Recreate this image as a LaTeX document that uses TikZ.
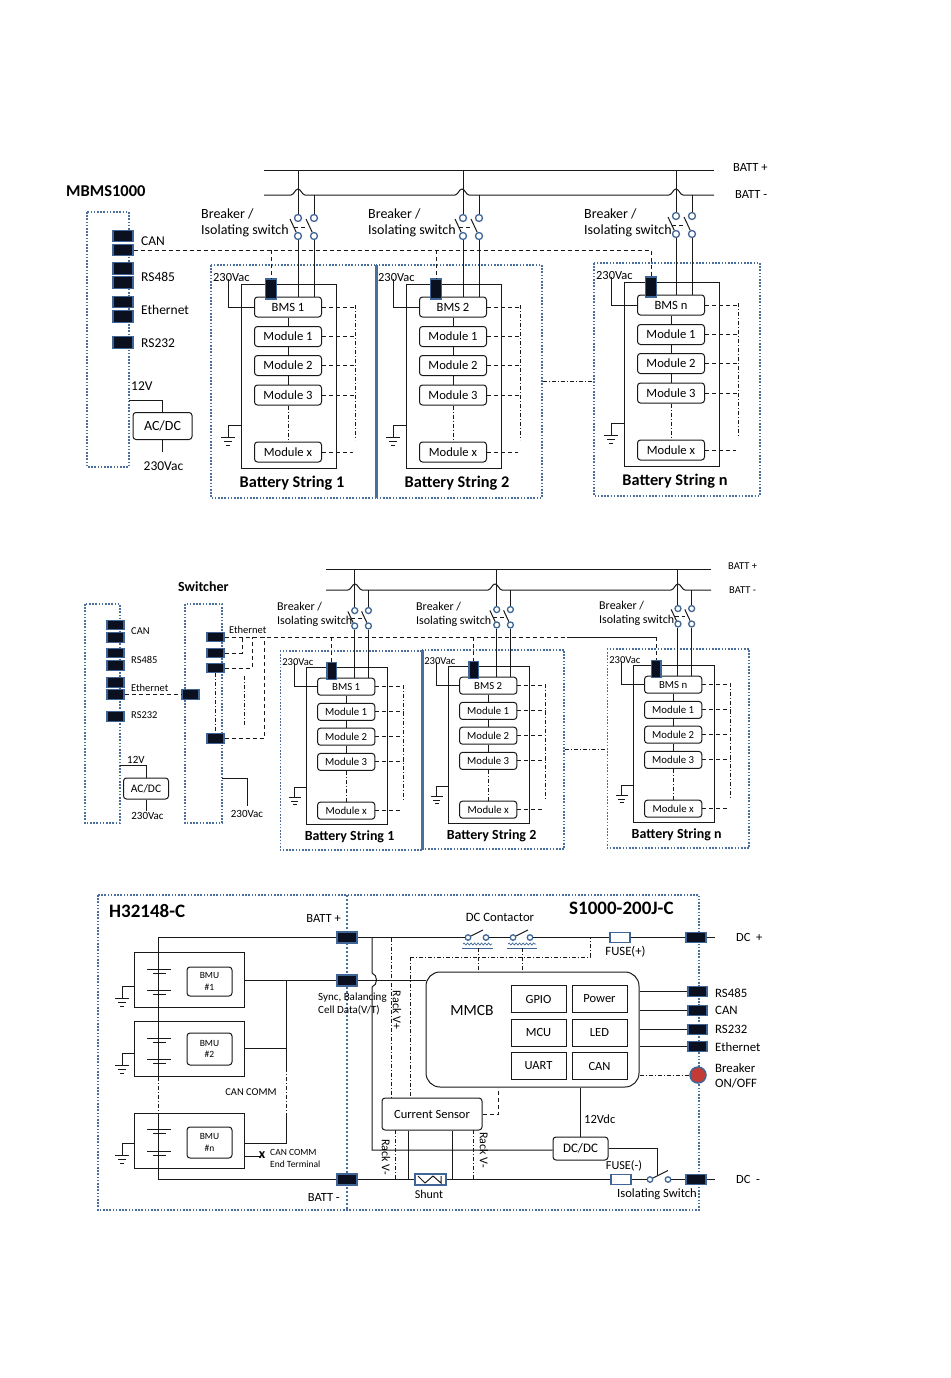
\documentclass[tikz,border=0pt]{standalone}
\usepackage{fontspec}
\usepackage{xcolor}
\setmainfont{Carlito}
\usetikzlibrary{decorations.pathmorphing}
\definecolor{portdark}{HTML}{0B1020}
\definecolor{portedge}{HTML}{3F6696}
\definecolor{dotblue}{HTML}{4A6F9C}
\definecolor{stopred}{HTML}{C23B36}
\tikzset{
  wire/.style={line width=1pt, draw=black!90},
  dashwire/.style={line width=1pt, draw=black!90, dash pattern=on 4pt off 3pt},
  dotwire/.style={line width=1pt, draw=black!90, dash pattern=on 4pt off 2pt on 1pt off 2pt},
  dotbox/.style={line width=1.6pt, draw=dotblue, dash pattern=on 1.6pt off 1.6pt},
  divider/.style={line width=2.4pt, draw=dotblue},
  txt/.style={font=\fontsize{#1}{#1}\selectfont, inner sep=0pt},
  btxt/.style={font=\fontsize{#1}{#1}\selectfont\bfseries, inner sep=0pt},
  port/.style 2 args={rectangle, fill=portdark, draw=portedge, line width=1.3pt, inner sep=0pt, minimum width=#1pt, minimum height=#2pt},
  pin/.style={circle, fill=white, draw=portedge, line width=1.3pt, inner sep=0pt, minimum size=#1pt},
  fuse/.style={rectangle, fill=white, draw=portedge, line width=1.2pt, inner sep=0pt, minimum width=20pt, minimum height=10pt},
  modbox/.style={rectangle, rounded corners=3pt, draw=black!90, fill=white, line width=1pt, inner sep=0pt},
  plainbox/.style={rectangle, draw=black!90, line width=1pt, inner sep=0pt},
}
\newcommand{\gndsym}[1]{\draw[wire] (#1) +(-7,0) -- +(7,0) (#1) +(-4,4) -- +(4,4) (#1) +(-2,8) -- +(2,8);}
\newcommand{\buship}[2]{-- ({#1-7},#2) .. controls ({#1-4},#2) and ({#1-3},{#2-6}) .. (#1,{#2-6}) .. controls ({#1+3},{#2-6}) and ({#1+4},#2) .. ({#1+7},#2)}
\newcommand{\poleshift}{0}
\newcommand{\batstring}[6]{
  \pgfmathsetmacro\modw{#4*67}
  \pgfmathsetmacro\modh{#4*20}
  \pgfmathsetmacro\strw{#4*95}
  \pgfmathsetmacro\strh{#4*184}
  \pgfmathsetmacro\pinw{#4*7}
  \pgfmathsetmacro\modsize{#4*12.6}
  \pgfmathsetmacro\vacsize{#4*12.4}
  \pgfmathsetmacro\titlesize{#4*16.3}
  \begin{scope}[shift={(#2,#3)},x=#4pt,y=-#4pt]
  \draw[dotbox] (-30,-19) rectangle (136,214);
  \node[plainbox, anchor=north west, minimum width=\strw pt, minimum height=\strh pt] (#1case) at (0,0) {};
  \foreach \nm/\yy/\tx in {bms/23/#5, ma/52.5/Module 1, mb/81.5/Module 2, mc/111/Module 3, mx/168/Module x}
    \node[modbox, txt=\modsize, minimum width=\modw pt, minimum height=\modh pt] (#1\nm) at (47,\yy) {\tx};
  \node[port={\pinw pt}{\modh pt}, minimum width=#4*11pt, minimum height=#4*20pt] (#1port) at ({30+0.6*\poleshift},5) {};
  \coordinate (#1rail) at (114,21);
  \coordinate (#1railend) at (114,156);
  \coordinate (#1gnd) at (-13,153);
  \coordinate (#1vac) at (-13,-5);
  \node[pin=\pinw] (#1swa) at ({57+\poleshift},-66) {};
  \node[pin=\pinw] (#1swb) at ({73+\poleshift},-66) {};
  \node[pin=\pinw] (#1sla) at ({57+\poleshift},-48) {};
  \node[pin=\pinw] (#1slb) at ({73+\poleshift},-48) {};
  \node[txt=\vacsize, anchor=west] (#1vaclab) at (-28,-6) {230Vac};
  \node[btxt=\titlesize] (#1title) at (51,199) {#6};
  \draw[wire] (#1bms) -- (#1ma);
  \draw[wire] (#1ma) -- (#1mb);
  \draw[wire] (#1mb) -- (#1mc);
  \draw[dotwire] (#1mc) -- (#1mx);
  \draw[dotwire] (#1rail) -- (#1railend);
  \draw[dashwire] (#1bms.east) -- (#1rail |- #1bms.east);
  \draw[dashwire] (#1ma.east) -- (#1rail |- #1ma.east);
  \draw[dashwire] (#1mb.east) -- (#1rail |- #1mb.east);
  \draw[dashwire] (#1mc.east) -- (#1rail |- #1mc.east);
  \draw[dashwire] (#1mx.east) -- ++(31,0);
  \draw[wire] (#1sla) -- (#1sla |- #1bms.north);
  \draw[wire] (#1slb) -- (#1slb |- #1bms.north);
  \draw[wire] ($(#1sla)+(-8,-17)$) -- (#1sla);
  \draw[wire] ($(#1slb)+(-8,-17)$) -- (#1slb);
  \draw[dashwire] ($(#1sla)+(-4,-9)$) -- ($(#1sla)+(8,-9)$);
  \draw[wire] (#1vac) -- (#1vac |- #1bms.west) -- (#1bms.west);
  \draw[wire] (#1case.west |- 0,141) -- (#1gnd |- 0,141) -- (#1gnd);
  \gndsym{#1gnd}
  \end{scope}
}
\newcommand{\contactor}[3]{
  \node[pin=5.5] (#1a) at (#2,937.5) {};
  \node[pin=5.5] (#1b) at (#3,937.5) {};
  \draw[wire] (#1a) -- ++(15,-7.5);
  \draw[line width=0.7pt, draw=portedge, decorate, decoration={snake,amplitude=1pt,segment length=3.5pt}] ({#2-5},944) -- ({#3+6},944);
  \draw[line width=0.8pt, draw=portedge] ({#2-6},948) -- ({#3+7},948);
}
\usetikzlibrary{calc}
\begin{document}
\begin{tikzpicture}[x=1pt,y=-1pt]
\useasboundingbox (0,0) rectangle (950,1378);
\coordinate (busplus) at (264,170);
\coordinate (busminus) at (264,195);
\draw[wire] (busplus) -- (714,170);
\draw[wire] (busminus) \buship{298}{195} \buship{462}{195} \buship{676}{195} -- (714,195);
\node[txt=12.5, anchor=west] (battpa) at (733,167) {BATT +};
\node[txt=12.5, anchor=west] (battma) at (735,194.5) {BATT -};
\node[btxt=16.5, anchor=west] (mbmslab) at (66,191.5) {MBMS1000};
\draw[dotbox] (87,212) rectangle (129,467);
\foreach \nm/\yy in {cana/236,canb/250,rsa/268.5,rsb/282.5,etha/302,ethb/316.5,rsc/342.5}
  \node[port={20}{11.5}] (\nm) at (123,\yy) {};
\foreach \tx/\yy in {CAN/241.5,RS485/276.5,Ethernet/309.5,RS232/343}
  \node[txt=13.5, anchor=west] at (141,\yy) {\tx};
\node[txt=13.5, anchor=west] (twelvea) at (131,386) {12V};
\node[modbox, txt=14, minimum width=59pt, minimum height=27pt] (acdca) at (162.5,426) {AC/DC};
\node[txt=13.5] (vacmain) at (163.5,466) {230Vac};
\draw[wire] (129,400) -- (acdca.north |- 129,400) -- (acdca.north);
\draw[wire] (acdca.south) -- ++(0,12);
\batstring{sa}{241}{284}{1}{BMS 1}{Battery String 1}
\batstring{sb}{406}{284}{1}{BMS 2}{Battery String 2}
\renewcommand{\poleshift}{-5}
\batstring{sn}{624}{282}{1}{BMS n}{Battery String n}
\renewcommand{\poleshift}{0}
\draw[divider] (376.5,265) -- (376.5,498);
\draw[dotwire] (543,381) -- (593,381);
\foreach \s in {sa,sb,sn}{
  \draw[wire] (\s swa) -- (\s swa |- busplus);
  \draw[wire] (\s swb) -- (\s swb |- busminus);
}
\draw[dashwire] (canb.east) -- (snport.north |- canb.east) -- (snport.north);
\draw[dashwire] (saport.north |- canb.east) -- (saport.north);
\draw[dashwire] (sbport.north |- canb.east) -- (sbport.north);
\foreach \nm/\xx/\yy in {brka/201/223,brkb/368/223,brkn/584/223}
  \node[txt=14, anchor=west, align=left] (\nm) at (\xx,\yy) {Breaker /\\[2.5pt]Isolating switch};

\coordinate (busplusb) at (326,569);
\coordinate (busminusb) at (326,590);
\draw[wire] (busplusb) -- (711,569);
\draw[wire] (busminusb) \buship{355}{590} \buship{495}{590} \buship{678}{590} -- (711,590);
\node[txt=10.5, anchor=west] (battpb) at (728,566) {BATT +};
\node[txt=10.5, anchor=west] (battmb) at (729,590) {BATT -};
\node[btxt=14, anchor=west] (switchlab) at (178,587) {Switcher};
\draw[dotbox] (85,604) rectangle (120,823);
\draw[dotbox] (185,604) rectangle (222,823);
\foreach \nm/\yy in {canc/625,cand/637.5,rsd/653,rse/665.5,ethc/682.5,ethd/694.5,rsf/716.5}
  \node[port={17}{9.5}] (\nm) at (115.5,\yy) {};
\foreach \tx/\yy in {CAN/631,RS485/659.5,Ethernet/688,RS232/715.5}
  \node[txt=10.5, anchor=west] at (131,\yy) {\tx};
\node[port={17}{9.5}] (ethin) at (190.5,694.5) {};
\foreach \nm/\yy in {swpa/637,swpb/653,swpc/668,swpd/738.5}
  \node[port={17}{9.5}] (\nm) at (215.5,\yy) {};
\node[txt=10.5, anchor=west] (ethlab) at (229,630) {Ethernet};
\node[txt=11, anchor=west] (twelveb) at (127,760) {12V};
\node[modbox, txt=11.5, minimum width=45pt, minimum height=21pt] (acdcb) at (146,788.5) {AC/DC};
\node[txt=11] (vacb) at (147.5,815.5) {230Vac};
\node[txt=11] (vacc) at (247,813.5) {230Vac};
\draw[wire] (120,765) -- (acdcb.north |- 120,765) -- (acdcb.north);
\draw[wire] (acdcb.south) -- ++(0,11);
\draw[wire] (222,778) -- (247,778) -- (247,806);
\draw[dashwire] (ethd.east) -- (ethin.west);
\batstring{ta}{306}{667}{0.855}{BMS 1}{Battery String 1}
\batstring{tb}{448}{666}{0.855}{BMS 2}{Battery String 2}
\renewcommand{\poleshift}{-4.4}
\batstring{tn}{633}{665}{0.855}{BMS n}{Battery String n}
\renewcommand{\poleshift}{0}
\draw[divider] (422.3,650) -- (422.3,850);
\draw[dotwire] (565,749) -- (606,749);
\foreach \s in {ta,tb,tn}{
  \draw[wire] (\s swa) -- (\s swa |- busplusb);
  \draw[wire] (\s swb) -- (\s swb |- busminusb);
}
\coordinate (ethturn) at (567,637);
\draw[dashwire] (swpa.east) -- (ethturn);
\draw[wire] (ethturn) -- (tnport.north |- ethturn);
\draw[dashwire] (tnport.north |- ethturn) -- (tnport.north);
\draw[dashwire] (taport.north |- ethturn) -- (taport.north);
\draw[dashwire] (tbport.north |- ethturn) -- (tbport.north);
\draw[dashwire] (swpb.east) -- (242,653) -- (242,637);
\draw[dashwire] (swpc.east) -- (252,668) -- (252,637);
\draw[dashwire] (swpd.east) -- (264,738.5) -- (264,637);
\draw[dotwire] (swpc.south) -- (swpd.north);
\draw[dotwire] (244,676) -- (244,727);
\foreach \nm/\xx/\yy in {brkc/277/614,brkd/416/614,brkm/599/613.5}
  \node[txt=12, anchor=west, align=left] (\nm) at (\xx,\yy) {Breaker /\\[2pt]Isolating switch};

\draw[dotbox] (98,895) rectangle (699,1210);
\draw[line width=2pt, draw=dotblue, dash pattern=on 2pt off 2pt] (347,895) -- (347,1210);
\node[btxt=19, anchor=west] (leftlab) at (109,911) {H32148-C};
\node[btxt=19, anchor=west] (rightlab) at (569,908) {S1000-200J-C};
\foreach \nm/\yy in {cella/979.5,cellb/1048.5,celln/1140.5}
  \node[plainbox, minimum width=110pt, minimum height=55pt] (\nm) at (189,\yy) {};
\node[modbox, txt=9.5, align=center, minimum width=45pt, minimum height=29pt] (bmua) at (209.5,981.5) {BMU\\[2pt]\#1};
\node[modbox, txt=9.5, align=center, minimum width=45pt, minimum height=32pt] (bmub) at (209.5,1049) {BMU\\[2pt]\#2};
\node[modbox, txt=9.5, align=center, minimum width=45pt, minimum height=31pt] (bmun) at (209.5,1142.5) {BMU\\[2pt]\#n};
\foreach \yy in {969,990,1038,1059,1129,1151}{
  \draw[wire] (147,\yy) -- (171,\yy);
  \draw[wire] (153,{\yy+4.5}) -- (166,{\yy+4.5});
}
\foreach \nm/\yy/\gg in {gna/986/998,gnb/1053/1065,gnn/1143/1155}{
  \coordinate (\nm) at (122,\gg);
  \draw[wire] (134,\yy) -- (122,\yy) -- (\nm);
  \gndsym{\nm}
}
\node[port={20}{11}] (battp) at (347,937.5) {};
\node[port={20}{11}] (sync) at (347,980.5) {};
\node[port={20}{11}] (battm) at (347,1179.5) {};
\node[fuse] (fusep) at (620,937.5) {};
\node[fuse] (fusem) at (621,1179.5) {};
\node[fuse, minimum width=31pt, minimum height=11pt] (shunt) at (430.5,1179.5) {};
\node[port={20}{10.5}] (dcp) at (696,937.5) {};
\node[port={20}{10.5}] (dcm) at (696,1179.5) {};
\node[modbox, rounded corners=14pt, txt=15, minimum width=213pt, minimum height=115pt] (mmcb) at (532.5,1029.5) {};
\node[txt=15.5] (mmcblab) at (472,1011) {MMCB};
\foreach \nm/\tx/\xx/\yy in {gpio/GPIO/538.5/999, power/Power/599.5/999, mcu/MCU/538.5/1032.5, led/LED/599.5/1032.5, uart/UART/538.5/1066, canb3/CAN/599.5/1066}
  \node[plainbox, txt=12.5, minimum width=55pt, minimum height=27pt] (\nm) at (\xx,\yy) {\tx};
\node[modbox, txt=12.5, minimum width=100pt, minimum height=32pt] (sensor) at (432,1114) {Current Sensor};
\node[modbox, txt=13, minimum width=55pt, minimum height=23pt] (dcdc) at (580.5,1148.5) {DC/DC};
\foreach \nm/\yy in {pra/991.5,prb/1010.5,prc/1029.5,prd/1046.5}
  \node[port={19}{10.5}] (\nm) at (697.5,\yy) {};
\node[circle, fill=stopred, draw=portedge, line width=1.5pt, inner sep=0pt, minimum size=16pt] (brkbtn) at (698,1075) {};
\contactor{cta}{468}{486}
\contactor{ctb}{513}{530}
\node[pin=5.5] (isoa) at (650,1179.5) {};
\node[pin=5.5] (isob) at (668,1179.5) {};
\coordinate (botrail) at (158,1179.5);
\coordinate (toprail) at (158,937.5);
\coordinate (cansplit) at (286,980.5);
\coordinate (rackleft) at (372,937.5);
\coordinate (rackright) at (410,957);
\coordinate (legl) at (408,1179.5);
\coordinate (legr) at (452,1179.5);
\draw[wire] (toprail) -- (battp);
\draw[wire] (battp) -- (ctaa);
\draw[wire] (ctab) -- (ctba);
\draw[wire] (ctbb) -- (fusep);
\draw[wire] (fusep) -- (dcp);
\draw[wire] (dcp.east) -- ++(8,0);
\draw[wire] (toprail) -- (158,1077);
\draw[dotwire] (158,1077) -- (158,1113);
\draw[wire] (158,1113) -- (botrail);
\draw[wire] (botrail) -- (battm);
\draw[wire] (battm) -- (shunt);
\draw[wire] (shunt) -- (fusem);
\draw[wire] (fusem) -- (isoa);
\draw[wire] (isob) -- (dcm);
\draw[wire] (dcm.east) -- ++(8,0);
\draw[wire] (isoa) -- ++(18,-9);
\draw[wire] (418,1176) -- (425,1183) -- (433,1176) -- (441,1183) -- (441,1176);
\draw[wire] (cella.east |- sync) -- (sync);
\draw[wire] (sync) -- (mmcb.west |- sync);
\draw[wire] (cellb.east) -- (cansplit |- cellb.east);
\draw[wire] (cansplit) -- (286,1068);
\draw[dotwire] (286,1068) -- (286,1113);
\draw[wire] (286,1113) -- (286,1143) -- (celln.east |- 286,1143);
\draw[wire] (celln.east |- 0,1156) -- (260,1156);
\node[btxt=14] (endx) at (262,1155) {x};
\draw[wire] (rackleft) -- (372,973) .. controls (378,975) and (378,985) .. (372,987) -- (372,1150) -- (dcdc.west |- 372,1150);
\draw[dotwire] (391.5,937.5) -- (sensor.north -| 391.5,0);
\draw[dotwire] (rackright) -- (590,957) -- (590,937.5);
\draw[dotwire] (rackright) -- (sensor.north -| rackright);
\draw[dotwire] (478,948) -- (mmcb.north -| 478,0);
\draw[dotwire] (522,948) -- (mmcb.north -| 522,0);
\draw[dashwire] (sensor.east) -- (498,1114) -- (mmcb.south -| 498,0);
\draw[wire] (legl |- sensor.south) -- (legl);
\draw[wire] (legr |- sensor.south) -- (legr);
\draw[dotwire] (395,1130) -- (395,1179.5);
\draw[dotwire] (473,1130) -- (473,1179.5);
\draw[wire] (dcdc.north |- mmcb.south) -- (dcdc.north);
\draw[wire] (dcdc.east) -- (657,1148.5) -- (657,1175);
\foreach \nm in {pra,prb,prc,prd}
  \draw[wire] (mmcb.east |- \nm) -- (\nm);
\draw[dotwire] (mmcb.east |- brkbtn) -- (brkbtn);
\node[txt=12.5, anchor=east] (lbattp) at (341,918.5) {BATT +};
\node[txt=12.5, anchor=east] (lbattm) at (340,1197.5) {BATT -};
\node[txt=11, anchor=west, align=left] (synclab) at (318,1003.5) {Sync, Balancing\\[2pt]Cell Data(V/T)};
\node[txt=10.5] (cancomm) at (251,1092.5) {CAN COMM};
\node[txt=9.5, anchor=west, align=left] (endlab) at (270,1158) {CAN COMM\\[2.5pt]End Terminal};
\node[txt=12, rotate=-90] (rackvp) at (397,1010) {Rack V+};
\node[txt=12, rotate=-90] (rackvma) at (386,1157) {Rack V-};
\node[txt=12, rotate=-90] (rackvmb) at (484,1150) {Rack V-};
\node[txt=12.7] (contlab) at (500,917) {DC Contactor};
\node[txt=12.7] (fplab) at (625.5,951.5) {FUSE(+)};
\node[txt=12.2] (fmlab) at (624,1166) {FUSE(-)};
\node[txt=12.6, anchor=west] (isolab) at (617,1194) {Isolating Switch};
\node[txt=12] (shuntlab) at (429,1194.5) {Shunt};
\node[txt=12.5, anchor=west] (twelvec) at (584,1119) {12Vdc};
\node[txt=12.5, anchor=west] (dcplab) at (736,937) {DC\ \ +};
\node[txt=12.5, anchor=west] (dcmlab) at (736,1179) {DC\ \ -};
\foreach \tx/\yy in {RS485/993,CAN/1010,RS232/1029,Ethernet/1047}
  \node[txt=12.8, anchor=west] at (715,\yy) {\tx};
\node[txt=12.8, anchor=west, align=left] (brklab) at (715,1075.5) {Breaker\\[2.5pt]ON/OFF};
\end{tikzpicture}
\end{document}
